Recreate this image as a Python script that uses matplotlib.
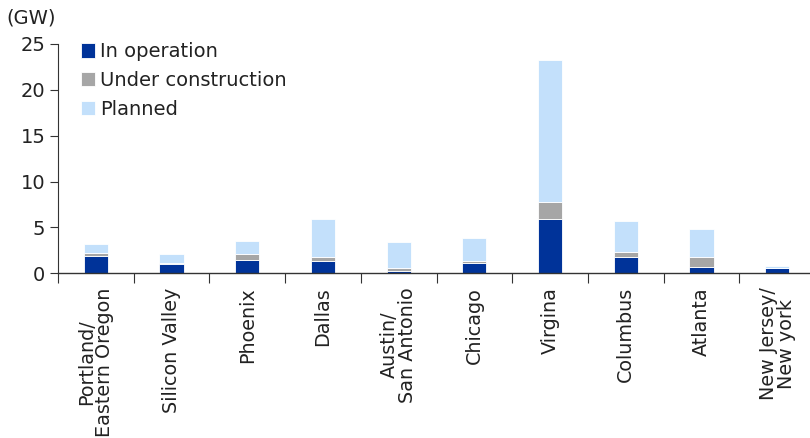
import matplotlib as mpl
mpl.use('agg')
import matplotlib.pyplot as plt
import numpy as np

plt.rcParams['font.family'] = ['DejaVu Sans']

# data centre capacity by market (GW)
markets = ["Portland/\nEastern Oregon", "Silicon Valley", "Phoenix", "Dallas",
           "Austin/\nSan Antonio", "Chicago", "Virgina", "Columbus", "Atlanta",
           "New Jersey/\nNew york"]
in_operation = [1.9, 1.0, 1.5, 1.35, 0.3, 1.15, 5.9, 1.8, 0.65, 0.55]
under_construction = [0.3, 0.1, 0.55, 0.45, 0.3, 0.15, 1.9, 0.55, 1.1, 0.07]
planned = [0.95, 1.0, 1.5, 4.1, 2.85, 2.55, 15.45, 3.35, 3.05, 0.2]

series_names = ["In operation", "Under construction", "Planned"]
colours = ["#003399", "#a6a6a6", "#c3e0fb"]

fig = plt.figure(figsize=(8.1, 4.38), dpi=100)
ax = fig.add_axes([0.0716, 0.376, 0.9346, 0.524])

x = np.arange(len(markets))
bottom = np.zeros(len(markets))
for vals, name, col in zip([in_operation, under_construction, planned], series_names, colours):
  ax.bar(x, vals, width=0.32, bottom=bottom, color=col, label=name,
         edgecolor='white', linewidth=0.6)
  bottom += np.array(vals)

ax.set_ylim(0, 25)
ax.set_xlim(-0.5, len(markets) - 0.5)
ax.set_yticks([0, 5, 10, 15, 20, 25])

# ticks between categories, labels centred under bars
ax.set_xticks(np.arange(len(markets) + 1) - 0.5, minor=False)
ax.set_xticklabels([])
ax.set_xticks(x, minor=True)
ax.set_xticklabels(markets, minor=True, rotation=90, ha='center', va='top',
                   multialignment='center', fontsize=13.8, color='#222222',
                   linespacing=0.95)
ax.tick_params(axis='x', which='minor', length=0, pad=10)
ax.tick_params(axis='x', which='major', length=7, width=0.8, color='#333333')
ax.tick_params(axis='y', length=6, width=0.8, labelsize=14, color='#333333',
               labelcolor='#222222', pad=3)

for side in ['top', 'right']:
  ax.spines[side].set_visible(False)
ax.spines['left'].set_color('#333333')
ax.spines['bottom'].set_color('#333333')
ax.spines['left'].set_linewidth(0.8)
ax.spines['bottom'].set_linewidth(1.0)

fig.text(0.008, 0.958, "(GW)", fontsize=14, color='#222222', va='center')

leg = ax.legend(loc='upper left', bbox_to_anchor=(0.02, 1.04), frameon=False,
                fontsize=14, handlelength=0.75, handleheight=0.75,
                handletextpad=0.25, labelspacing=0.5, borderaxespad=0)
for t in leg.get_texts():
  t.set_color('#222222')

plt.savefig("out.png", dpi=100)
